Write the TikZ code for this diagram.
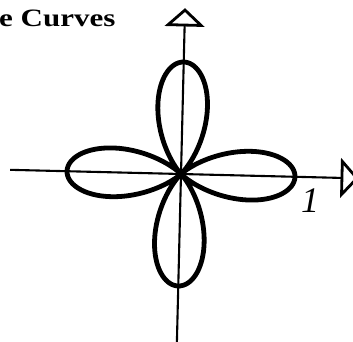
\documentclass[tikz,border=0pt]{standalone}
\usepackage{fontspec}
\setmainfont{Liberation Serif}
\begin{document}
\begin{tikzpicture}[x=1pt,y=1pt,
  axis/.style={line width=2.1pt},
  tri/.style={line width=2.8pt, line join=miter, fill=white},
  petal/.style={line width=4.8pt, line join=round},
  lbl/.style={inner sep=0pt}]
\useasboundingbox (0,0) rectangle (353,341);
\clip (0,0) rectangle (353,341);
\node[lbl, anchor=base west] (title) at (-1,314.5) {\fontsize{25}{25}\selectfont\bfseries\scalebox{1.24}[1]{e Curves}};
\begin{scope}[shift={(181,167)}, rotate=-1.4]
  \coordinate (O) at (0,0);
  \coordinate (xl) at (-171,0);
  \coordinate (xr) at (176,0);
  \coordinate (xrb) at (161,0);
  \coordinate (xr1) at (161,16.5);
  \coordinate (xr2) at (161,-16.5);
  \coordinate (yb) at (0,-185);
  \coordinate (yt) at (0,164);
  \coordinate (ytb) at (0,149);
  \coordinate (yt1) at (-16.5,149);
  \coordinate (yt2) at (16.5,149);
  \draw[axis] (xl) -- (xrb);
  \draw[axis] (yb) -- (ytb);
  \draw[tri] (xr) -- (xr1) -- (xr2) -- cycle;
  \draw[tri] (yt) -- (yt1) -- (yt2) -- cycle;
  \draw[petal] plot[domain=0:360, samples=721]
    ({114*(abs(cos(2*\x))+0.0001)^1.7*cos(\x)}, {112*(abs(cos(2*\x))+0.0001)^1.7*sin(\x)}) -- cycle;
\end{scope}
\node[lbl] (one) at (310,140.5) {\fontsize{36}{36}\selectfont\itshape 1};
\end{tikzpicture}
\end{document}
